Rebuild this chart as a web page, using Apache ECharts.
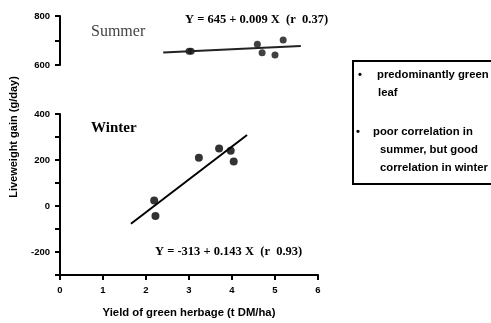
<!DOCTYPE html>
<html><head><meta charset="utf-8">
<script src="https://cdn.jsdelivr.net/npm/echarts@6/dist/echarts.min.js"></script>
<style>html,body{margin:0;padding:0;background:#fff}#c{width:491px;height:323px}</style>
</head><body><div id="c"></div>
<script>
const xTicks = [0, 1, 2, 3, 4, 5, 6];
const topYLabels = [800, 600];
const bottomYLabels = [400, 200, 0, -200];
const summerX = [3.0, 3.05, 4.59, 4.70, 5.0, 5.19];
const summerY = [656, 656, 685, 650, 641, 702];
const summerLineX = [2.4, 5.6];
const summerLineY = [651, 678];
const winterX = [2.19, 2.22, 3.23, 3.7, 3.97, 4.04];
const winterY = [24, -44, 210, 250, 240, 194];
const winterLineX = [1.65, 4.35];
const winterLineY = [-77, 309];

const zip = (a, b) => a.map((v, i) => [v, b[i]]);
const bold = 'Liberation Sans';

const chart = echarts.init(document.getElementById('c'));
const axisLine = {show: true, onZero: false, lineStyle: {color: '#000', width: 2}};
const axisTick = {show: true, inside: false, length: 5, lineStyle: {color: '#000', width: 2}};
const lbl = {color: '#000', fontFamily: bold, fontWeight: 'bold', fontSize: 9.5};
const txt = (x, y, text, font, fill) => ({type: 'text', x, y,
  style: {text, fill: fill || '#000', font, textVerticalAlign: 'middle'}});
const boxFont = 'bold 11.3px "Liberation Sans"';
chart.setOption({
  animation: false,
  grid: [
    {left: 60, top: 16, width: 258, height: 49},
    {left: 60, top: 114, width: 258, height: 165}
  ],
  xAxis: [
    {gridIndex: 0, type: 'value', min: 0, max: 6, interval: 1, show: false},
    {gridIndex: 1, type: 'value', min: 0, max: 6, interval: 1,
     axisLine: axisLine, axisTick: axisTick, splitLine: {show: false},
     axisLabel: Object.assign({}, lbl, {margin: 10,
       formatter: v => xTicks.includes(v) ? String(v) : ''}),
     name: 'Yield of green herbage (t DM/ha)', nameLocation: 'middle', nameGap: 32,
     nameTextStyle: {color: '#000', fontFamily: bold, fontWeight: 'bold', fontSize: 11.3}}
  ],
  yAxis: [
    {gridIndex: 0, type: 'value', min: 600, max: 800, interval: 100,
     axisLine: axisLine, axisTick: axisTick, splitLine: {show: false},
     axisLabel: Object.assign({}, lbl, {margin: 10,
       formatter: v => topYLabels.includes(v) ? String(v) : ''})},
    {gridIndex: 1, type: 'value', min: -300, max: 400, interval: 100,
     axisLine: axisLine, axisTick: axisTick, splitLine: {show: false},
     axisLabel: Object.assign({}, lbl, {margin: 10,
       formatter: v => bottomYLabels.includes(v) ? String(v) : ''})}
  ],
  series: [
    {type: 'line', xAxisIndex: 0, yAxisIndex: 0, data: zip(summerLineX, summerLineY),
     symbol: 'none', lineStyle: {color: '#222', width: 2}},
    {type: 'scatter', xAxisIndex: 0, yAxisIndex: 0, data: zip(summerX, summerY),
     symbolSize: 7, itemStyle: {color: '#111'}},
    {type: 'line', xAxisIndex: 1, yAxisIndex: 1, data: zip(winterLineX, winterLineY),
     symbol: 'none', lineStyle: {color: '#000', width: 2}},
    {type: 'scatter', xAxisIndex: 1, yAxisIndex: 1, data: zip(winterX, winterY),
     symbolSize: 8, itemStyle: {color: '#000'}}
  ],
  graphic: [
    {type: 'text', x: 14, y: 137, rotation: Math.PI / 2,
     style: {text: 'Liveweight gain (g/day)', fill: '#000', font: 'bold 11px "Liberation Sans"',
       textAlign: 'center', textVerticalAlign: 'middle'}},
    txt(91, 32, 'Summer', '16px "Liberation Serif"', '#444'),
    txt(91, 128, 'Winter', 'bold 15px "Liberation Serif"'),
    txt(185, 20, 'Y = 645 + 0.009 X  (r  0.37)', 'bold 12.5px "Liberation Serif"'),
    txt(155, 252, 'Y = -313 + 0.143 X  (r  0.93)', 'bold 12.5px "Liberation Serif"'),
    {type: 'rect', shape: {x: 353, y: 61, width: 150, height: 123},
     style: {fill: 'none', stroke: '#000', lineWidth: 2}},
    txt(358, 75, '•', boxFont),
    txt(377, 75, 'predominantly green', boxFont),
    txt(378, 93, 'leaf', boxFont),
    txt(356, 132, '•', boxFont),
    txt(373, 132, 'poor correlation in', boxFont),
    txt(380, 150, 'summer, but good', boxFont),
    txt(380, 168, 'correlation in winter', boxFont)
  ]
});
</script></body></html>
